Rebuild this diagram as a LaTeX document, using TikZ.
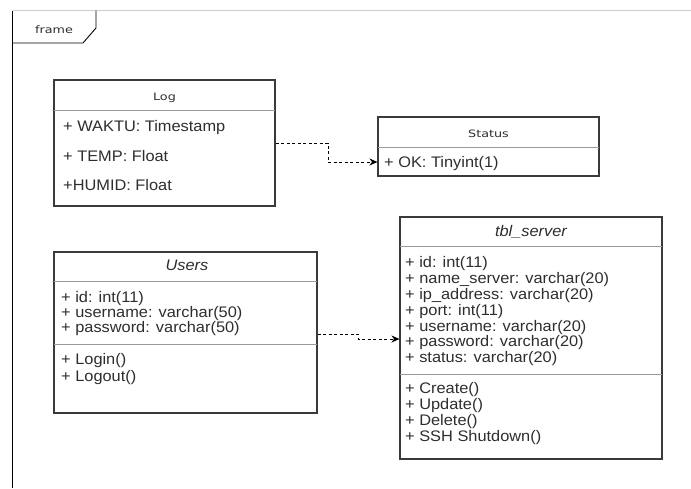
\documentclass[tikz,border=0pt]{standalone}
\usepackage{fontspec}
\setmainfont[FakeStretch=1.07]{Liberation Sans}
\newfontfamily\titlefont[FakeStretch=1.25]{DejaVu Sans}
\usetikzlibrary{arrows.meta}
\definecolor{txt}{HTML}{2E2E2E}
\definecolor{edge}{HTML}{3A3A3A}
\definecolor{divline}{HTML}{9A9A9A}
\begin{document}
\begin{tikzpicture}[x=1pt,y=-1pt,
  classbox/.style={draw=edge,line width=1.1pt,fill=none,inner sep=0pt},
  attr/.style={anchor=base west,inner sep=0pt,text=txt,font=\fontsize{15.3}{16}\selectfont},
  ttl/.style={anchor=base,inner sep=0pt,text=txt,font=\titlefont\fontsize{10.2}{12}\selectfont},
  ittl/.style={anchor=base,inner sep=0pt,text=txt,font=\fontsize{15.3}{16}\selectfont\itshape},
  divider/.style={draw=divline,line width=0.8pt},
  conn/.style={draw=black,line width=0.9pt,dash pattern=on 3pt off 2.5pt,-{Stealth[length=8pt,width=7pt]}}]
\useasboundingbox (0,0) rectangle (691,488);
\fill[white] (0,0) rectangle (691,488);
% frame
\draw[draw=lightgray!80,line width=1pt] (12.5,10.5) -- (691,10.5);
\draw[black,line width=1.2pt] (12.5,10.5) -- (12.5,488);
\draw[black,line width=0.9pt] (12.5,43) -- (83,43) -- (96,28) -- (96,10.5);
\node[ttl] (frametxt) at (54,33.5) {frame};
% Log
\node[classbox,minimum width=221pt,minimum height=126pt] (log) at (164.5,143) {};
\draw[divider] (54,110) -- (275,110);
\node[ttl] (logt) at (164.5,100.5) {Log};
\node[attr] (l1) at (63,131) {+ WAKTU: Timestamp};
\node[attr] (l2) at (63,161) {+ TEMP: Float};
\node[attr] (l3) at (63,190) {+HUMID: Float};
% Status
\node[classbox,minimum width=221pt,minimum height=59pt] (status) at (488.5,146.5) {};
\draw[divider] (378,147) -- (599,147);
\node[ttl] (statt) at (488.5,137.5) {Status};
\node[attr] (s1) at (384,167) {+ OK: Tinyint(1)};
% Users
\node[classbox,minimum width=263pt,minimum height=161pt] (users) at (185.5,332.5) {};
\draw[divider] (54,281) -- (317,281);
\draw[divider] (54,344) -- (317,344);
\node[ittl] (usert) at (187,270) {Users};
\node[attr] (u1) at (61,302) {+ id: int(11)};
\node[attr] (u2) at (61,317) {+ username: varchar(50)};
\node[attr] (u3) at (61,332) {+ password: varchar(50)};
\node[attr] (u4) at (61,364) {+ Login()};
\node[attr] (u5) at (61,381) {+ Logout()};
% tbl_server
\node[classbox,minimum width=262pt,minimum height=242pt] (srv) at (531,338) {};
\draw[divider] (400,246) -- (662,246);
\draw[divider] (400,374) -- (662,374);
\node[ittl] (srvt) at (531,236) {tbl\_server};
\node[attr] (t1) at (405,267) {+ id: int(11)};
\node[attr] (t2) at (405,283) {+ name\_server: varchar(20)};
\node[attr] (t3) at (405,299) {+ ip\_address: varchar(20)};
\node[attr] (t4) at (405,315) {+ port: int(11)};
\node[attr] (t5) at (405,331) {+ username: varchar(20)};
\node[attr] (t6) at (405,346) {+ password: varchar(20)};
\node[attr] (t7) at (405,362) {+ status: varchar(20)};
\node[attr] (t8) at (405,393) {+ Create()};
\node[attr] (t9) at (405,409) {+ Update()};
\node[attr] (t10) at (405,425) {+ Delete()};
\node[attr] (t11) at (405,441) {+ SSH Shutdown()};
% connectors
\coordinate (c1a) at (328,143);
\coordinate (c1b) at (328,162);
\draw[conn] (log.east |- c1a) -- (c1a) -- (c1b) -- (status.west |- c1b);
\coordinate (c2a) at (358,334);
\coordinate (c2b) at (358,339);
\draw[conn] (users.east |- c2a) -- (c2a) -- (c2b) -- (srv.west |- c2b);
\end{tikzpicture}
\end{document}
